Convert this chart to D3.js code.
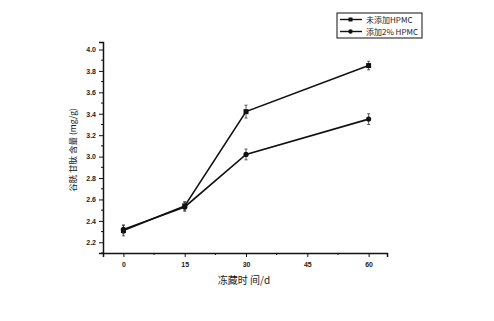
<!DOCTYPE html>
<html>
<head>
<meta charset="utf-8">
<script src="https://cdn.jsdelivr.net/npm/d3@7"></script>
<style>
  body { margin: 0; background: #fff; }
  svg { display: block; }
  .axis text { font-family: "Liberation Sans", Arial, sans-serif; font-size: 7px; font-weight: bold; fill: #222; }
  .axis path, .axis line { stroke: #111; }
</style>
</head>
<body>
<svg></svg>
<script>
const width = 494, height = 321;

const days = [0, 15, 30, 60];
const seriesNames = ["未添加HPMC", "添加2% HPMC"];
const noHpmc = [2.31, 2.54, 3.42, 3.85];
const noHpmcErr = [0.05, 0.04, 0.06, 0.04];
const hpmc = [2.32, 2.53, 3.02, 3.35];
const hpmcErr = [0.04, 0.04, 0.05, 0.05];
const xTicks = [0, 15, 30, 45, 60];
const yTicks = [2.2, 2.4, 2.6, 2.8, 3.0, 3.2, 3.4, 3.6, 3.8, 4.0];

const plot = { left: 103, right: 387, top: 42, bottom: 253 };

const svg = d3.select("svg")
    .attr("width", width)
    .attr("height", height);

let xScale = d3.scaleLinear().domain([-5, 64.5]).range([plot.left, plot.right]);
let yScale = d3.scaleLinear().domain([2.1, 4.07]).range([plot.bottom, plot.top]);

// minor ticks
svg.append("g")
    .attr("class", "axis")
    .selectAll("line")
    .data(d3.range(-7.5, 64, 7.5).filter(d => d > -5 && xTicks.indexOf(d) < 0))
    .enter().append("line")
    .attr("x1", d => xScale(d)).attr("x2", d => xScale(d))
    .attr("y1", plot.bottom).attr("y2", plot.bottom + 2);

svg.append("g")
    .attr("class", "axis")
    .selectAll("line")
    .data(d3.range(2.1, 4.05, 0.2))
    .enter().append("line")
    .attr("x1", plot.left - 2).attr("x2", plot.left)
    .attr("y1", d => yScale(d)).attr("y2", d => yScale(d));

const xAxis = d3.axisBottom(xScale).tickValues(xTicks).tickSizeOuter(0).tickSize(4).tickPadding(5);
const yAxis = d3.axisLeft(yScale).tickValues(yTicks).tickFormat(d3.format(".1f")).tickSizeOuter(0).tickSize(4).tickPadding(3);

svg.append("g")
    .attr("class", "axis")
    .attr("transform", `translate(0,${plot.bottom})`)
    .call(xAxis)
    .call(g => g.select(".domain").attr("stroke-width", 1.5));

svg.append("g")
    .attr("class", "axis")
    .attr("transform", `translate(${plot.left},0)`)
    .call(yAxis)
    .call(g => g.select(".domain").attr("stroke-width", 1.5));

// axis titles
svg.append("text")
    .attr("x", 244).attr("y", 284)
    .attr("text-anchor", "middle")
    .style("font-family", "'Noto Sans CJK SC', sans-serif")
    .style("font-size", "10px")
    .attr("fill", "#222")
    .text("冻藏时 间/d");

svg.append("text")
    .attr("transform", "translate(76,150) rotate(-90)")
    .attr("text-anchor", "middle")
    .style("font-family", "'Noto Sans CJK SC', sans-serif")
    .style("font-size", "8.5px")
    .attr("fill", "#222")
    .text("谷胱 甘肽 含量 (mg/g)");

const line = d3.line()
    .x((d, i) => xScale(days[i]))
    .y(d => yScale(d));

const drawSeries = (values, errs, shape) => {
    const g = svg.append("g");
    g.append("path")
        .datum(values)
        .attr("fill", "none")
        .attr("stroke", "#111")
        .attr("stroke-width", 1.6)
        .attr("d", line);

    values.forEach((v, i) => {
        const x = xScale(days[i]);
        const e = errs[i];
        g.append("line")
            .attr("x1", x).attr("x2", x)
            .attr("y1", yScale(v - e)).attr("y2", yScale(v + e))
            .attr("stroke", "#333").attr("stroke-width", 0.8);
        [v - e, v + e].forEach(t => {
            g.append("line")
                .attr("x1", x - 1.5).attr("x2", x + 1.5)
                .attr("y1", yScale(t)).attr("y2", yScale(t))
                .attr("stroke", "#333").attr("stroke-width", 0.8);
        });
        if (shape === "square") {
            g.append("rect")
                .attr("x", x - 2.5).attr("y", yScale(v) - 2.5)
                .attr("width", 5).attr("height", 5)
                .attr("fill", "#111");
        } else {
            g.append("circle")
                .attr("cx", x).attr("cy", yScale(v))
                .attr("r", 2.6)
                .attr("fill", "#111");
        }
    });
};

drawSeries(noHpmc, noHpmcErr, "square");
drawSeries(hpmc, hpmcErr, "circle");

// legend
const legend = svg.append("g").attr("transform", "translate(337,13)");
legend.append("rect")
    .attr("width", 85).attr("height", 25)
    .attr("fill", "#fff")
    .attr("stroke", "#111")
    .attr("stroke-width", 1);

seriesNames.forEach((name, i) => {
    const y = 6.5 + i * 12;
    legend.append("line")
        .attr("x1", 3).attr("x2", 25)
        .attr("y1", y).attr("y2", y)
        .attr("stroke", "#111").attr("stroke-width", 1.4);
    if (i === 0) {
        legend.append("rect").attr("x", 11.5).attr("y", y - 2).attr("width", 4).attr("height", 4).attr("fill", "#111");
    } else {
        legend.append("circle").attr("cx", 13.5).attr("cy", y).attr("r", 2.2).attr("fill", "#111");
    }
    legend.append("text")
        .attr("x", 29).attr("y", y + 3)
        .style("font-family", "'Noto Sans CJK SC', sans-serif")
        .style("font-size", "8px")
        .attr("fill", "#222")
        .text(name);
});
</script>
</body>
</html>
